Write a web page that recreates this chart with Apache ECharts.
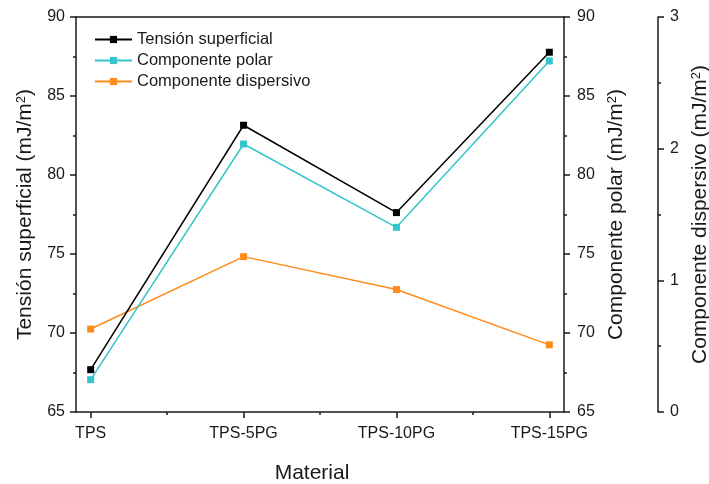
<!DOCTYPE html>
<html>
<head>
<meta charset="utf-8">
<script src="https://cdn.jsdelivr.net/npm/echarts@6/dist/echarts.min.js"></script>
<style>
  html, body { margin: 0; padding: 0; background: #fff; overflow: hidden; }
  #chart { width: 709px; height: 484px; }
</style>
</head>
<body>
<div id="chart"></div>
<script>
// Materials on the x axis
const categories = ['TPS', 'TPS-5PG', 'TPS-10PG', 'TPS-15PG'];
// Surface tension and its components (mJ/m²)
const tensionSuperficial = [67.68, 83.15, 77.62, 87.77];
const componentePolar = [67.05, 81.96, 76.69, 87.22];
const componenteDispersivo = [0.63, 1.18, 0.93, 0.51];

const FONT = '"Liberation Sans", Arial, sans-serif';
const AXIS_COLOR = '#1a1a1a';
const TEXT_COLOR = '#1a1a1a';

const toPairs = arr => arr.map((v, i) => [i, v]);

const axisLineStyle = { show: true, onZero: false, lineStyle: { color: AXIS_COLOR, width: 1.5 } };
const tickStyle = { lineStyle: { color: AXIS_COLOR, width: 1.5 } };
const labelStyle = { color: TEXT_COLOR, fontFamily: FONT, fontSize: 16 };
const nameStyle = {
  color: TEXT_COLOR, fontFamily: FONT, fontSize: 21,
  rich: { sup: { color: TEXT_COLOR, fontFamily: FONT, fontSize: 13, verticalAlign: 'top', padding: [0, 0, 7, 0] } }
};
const minorTickStyle = { show: true, splitNumber: 2, length: 3, lineStyle: { color: AXIS_COLOR, width: 1.5 } };

const chart = echarts.init(document.getElementById('chart'), null, { renderer: 'canvas', width: 709, height: 484 });

chart.setOption({
  backgroundColor: '#fff',
  animation: false,
  grid: { left: 76, right: 145, top: 17, bottom: 72, containLabel: false, outerBoundsMode: 'none' },
  legend: {
    left: 89, top: 26, orient: 'vertical',
    itemWidth: 37, itemHeight: 9, itemGap: 4,
    textStyle: { color: TEXT_COLOR, fontFamily: FONT, fontSize: 16.5 },
    data: ['Tensión superficial', 'Componente polar', 'Componente dispersivo']
  },
  xAxis: [
    {
      type: 'value', position: 'bottom',
      min: -0.096, max: 3.096,
      name: 'Material', nameLocation: 'middle', nameGap: 51,
      nameTextStyle: Object.assign({}, nameStyle, { padding: [0, 16, 0, 0] }),
      axisLine: axisLineStyle,
      axisTick: Object.assign({ show: true, length: 6, customValues: [0, 1, 2, 3] }, tickStyle),
      axisLabel: Object.assign({ margin: 14, customValues: [0, 1, 2, 3],
        formatter: v => categories[Math.round(v)] }, labelStyle),
      splitLine: { show: false }
    },
    {
      // minor ticks halfway between materials
      type: 'value', position: 'bottom',
      min: -0.096, max: 3.096,
      axisLine: { show: false, onZero: false },
      axisTick: Object.assign({ show: true, length: 3, customValues: [0.5, 1.5, 2.5] }, tickStyle),
      axisLabel: { show: false },
      splitLine: { show: false }
    },
    {
      // top frame line
      type: 'value', position: 'top',
      min: -0.096, max: 3.096,
      axisLine: axisLineStyle,
      axisTick: { show: false },
      axisLabel: { show: false },
      splitLine: { show: false }
    }
  ],
  yAxis: [
    {
      type: 'value', position: 'left',
      min: 65, max: 90, interval: 5,
      name: 'Tensión superficial (mJ/m{sup|2})', nameLocation: 'middle', nameRotate: 90, nameGap: 40,
      nameTextStyle: nameStyle,
      axisLine: axisLineStyle,
      axisTick: Object.assign({ show: true, length: 6 }, tickStyle),
      minorTick: minorTickStyle,
      axisLabel: Object.assign({ margin: 11 }, labelStyle),
      splitLine: { show: false }
    },
    {
      type: 'value', position: 'right',
      min: 65, max: 90, interval: 5,
      name: 'Componente polar (mJ/m{sup|2})', nameLocation: 'middle', nameRotate: 90, nameGap: 42,
      nameTextStyle: nameStyle,
      axisLine: axisLineStyle,
      axisTick: Object.assign({ show: true, length: 6 }, tickStyle),
      minorTick: minorTickStyle,
      axisLabel: Object.assign({ margin: 13 }, labelStyle),
      splitLine: { show: false }
    },
    {
      type: 'value', position: 'right', offset: 94,
      min: 0, max: 3, interval: 1,
      name: 'Componente dispersivo (mJ/m{sup|2})', nameLocation: 'middle', nameRotate: 90, nameGap: 28,
      nameTextStyle: nameStyle,
      axisLine: axisLineStyle,
      axisTick: Object.assign({ show: true, length: 6 }, tickStyle),
      minorTick: minorTickStyle,
      axisLabel: Object.assign({ margin: 12 }, labelStyle),
      splitLine: { show: false }
    }
  ],
  series: [
    {
      name: 'Tensión superficial', type: 'line', xAxisIndex: 0, yAxisIndex: 0,
      data: toPairs(tensionSuperficial),
      symbol: 'rect', symbolSize: 7,
      lineStyle: { color: '#000000', width: 1.5 },
      itemStyle: { color: '#000000' },
      z: 4
    },
    {
      name: 'Componente polar', type: 'line', xAxisIndex: 0, yAxisIndex: 1,
      data: toPairs(componentePolar),
      symbol: 'rect', symbolSize: 7,
      lineStyle: { color: '#33c4cc', width: 1.5 },
      itemStyle: { color: '#33c4cc' },
      z: 3
    },
    {
      name: 'Componente dispersivo', type: 'line', xAxisIndex: 0, yAxisIndex: 2,
      data: toPairs(componenteDispersivo),
      symbol: 'rect', symbolSize: 7,
      lineStyle: { color: '#ff8c1a', width: 1.5 },
      itemStyle: { color: '#ff8c1a' },
      z: 2
    }
  ]
});
</script>
</body>
</html>
